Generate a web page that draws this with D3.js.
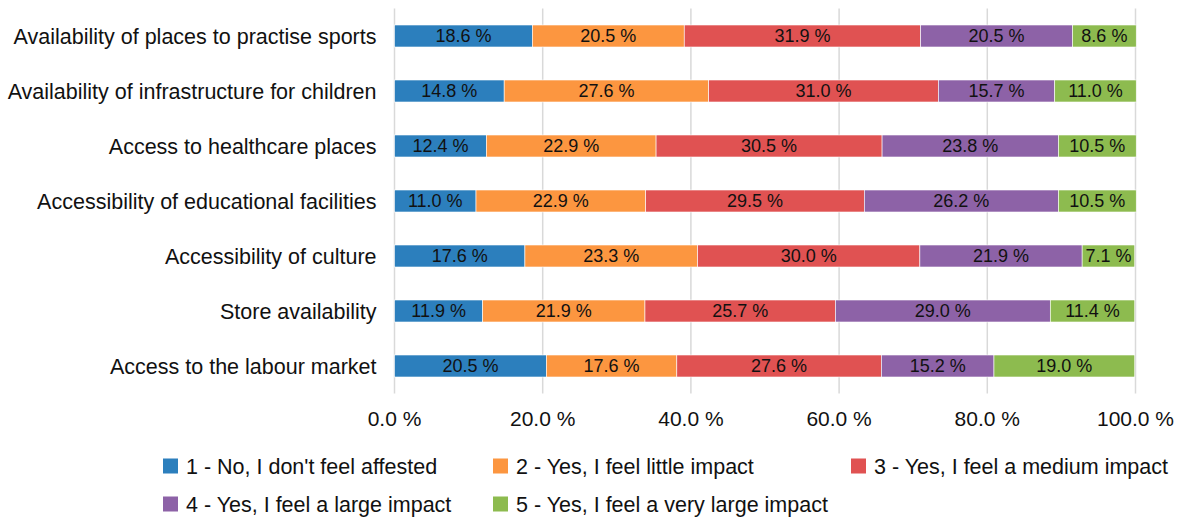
<!DOCTYPE html>
<html>
<head>
<meta charset="utf-8">
<script src="https://cdn.jsdelivr.net/npm/d3@7"></script>
<style>
  body { margin: 0; background: #fff; }
  svg { font-family: "Liberation Sans", Arial, sans-serif; }
</style>
</head>
<body>
<div id="chart"></div>
<script>
const categories = [
  "Availability of places to practise sports",
  "Availability of infrastructure for children",
  "Access to healthcare places",
  "Accessibility of educational facilities",
  "Accessibility of culture",
  "Store availability",
  "Access to the labour market"
];
const seriesNames = [
  "1 - No, I don't feel affested",
  "2 - Yes, I feel little impact",
  "3 - Yes, I feel a medium impact",
  "4 - Yes, I feel a large impact",
  "5 - Yes, I feel a very large impact"
];
const s1 = [18.6, 14.8, 12.4, 11.0, 17.6, 11.9, 20.5];
const s2 = [20.5, 27.6, 22.9, 22.9, 23.3, 21.9, 17.6];
const s3 = [31.9, 31.0, 30.5, 29.5, 30.0, 25.7, 27.6];
const s4 = [20.5, 15.7, 23.8, 26.2, 21.9, 29.0, 15.2];
const s5 = [8.6, 11.0, 10.5, 10.5, 7.1, 11.4, 19.0];
const xTicks = [0, 20, 40, 60, 80, 100];
const colors = ["#2C7FBD", "#FC9640", "#E05252", "#8D62A7", "#8DBB4F"];

const width = 1182, height = 517;
const margin = { top: 8.5, right: 46.5, bottom: 123.5, left: 394.5 };

const svg = d3.select("#chart").append("svg")
  .attr("width", width)
  .attr("height", height);

const x = d3.scaleLinear()
  .domain([0, 100])
  .range([margin.left, width - margin.right]);

const y = d3.scaleBand()
  .domain(categories)
  .range([margin.top, height - margin.bottom])
  .paddingInner(0.6)
  .paddingOuter(0.3);

// gridlines
svg.append("g")
  .selectAll("line")
  .data(xTicks)
  .join("line")
  .attr("x1", d => x(d))
  .attr("x2", d => x(d))
  .attr("y1", margin.top)
  .attr("y2", height - margin.bottom)
  .attr("stroke", "#d9d9d9")
  .attr("stroke-width", 1.5);

// stack the series
const rows = categories.map((c, i) => {
  const r = { cat: c };
  [s1, s2, s3, s4, s5].forEach((s, j) => r["s" + j] = s[i]);
  return r;
});
const keys = seriesNames.map((_, j) => "s" + j);
const stacked = d3.stack().keys(keys)(rows);

const layers = svg.append("g")
  .selectAll("g")
  .data(stacked)
  .join("g")
  .attr("fill", (d, i) => colors[i]);

layers.selectAll("rect")
  .data(d => d)
  .join("rect")
  .attr("x", d => x(d[0]))
  .attr("y", d => y(d.data.cat))
  .attr("width", d => x(d[1]) - x(d[0]))
  .attr("height", y.bandwidth())
  .attr("stroke", "#fff")
  .attr("stroke-width", 0.6);

layers.selectAll("text")
  .data(d => d.map(v => ({ v, key: d.key })))
  .join("text")
  .attr("x", d => (x(d.v[0]) + x(d.v[1])) / 2)
  .attr("y", d => y(d.v.data.cat) + y.bandwidth() / 2)
  .attr("dy", "0.36em")
  .attr("text-anchor", "middle")
  .attr("font-size", 18)
  .attr("fill", "#111")
  .text(d => d.v.data[d.key].toFixed(1) + " %");

// category labels
svg.append("g")
  .selectAll("text")
  .data(categories)
  .join("text")
  .attr("x", margin.left - 18)
  .attr("y", d => y(d) + y.bandwidth() / 2)
  .attr("dy", "0.36em")
  .attr("text-anchor", "end")
  .attr("font-size", 21.5)
  .attr("fill", "#111")
  .text(d => d);

// x axis labels
svg.append("g")
  .selectAll("text")
  .data(xTicks)
  .join("text")
  .attr("x", d => x(d))
  .attr("y", 418)
  .attr("dy", "0.36em")
  .attr("text-anchor", "middle")
  .attr("font-size", 21)
  .attr("fill", "#111")
  .text(d => d.toFixed(1) + " %");

// legend
const legendPos = [[163, 466], [493, 466], [851, 466], [163, 504], [493, 504]];
const legend = svg.append("g")
  .selectAll("g")
  .data(seriesNames)
  .join("g")
  .attr("transform", (d, i) => `translate(${legendPos[i][0]},${legendPos[i][1]})`);

legend.append("rect")
  .attr("x", 0)
  .attr("y", -7.5)
  .attr("width", 15)
  .attr("height", 15)
  .attr("fill", (d, i) => colors[i]);

legend.append("text")
  .attr("x", 23)
  .attr("y", 0)
  .attr("dy", "0.36em")
  .attr("font-size", 21.5)
  .attr("fill", "#111")
  .text(d => d);
</script>
</body>
</html>
